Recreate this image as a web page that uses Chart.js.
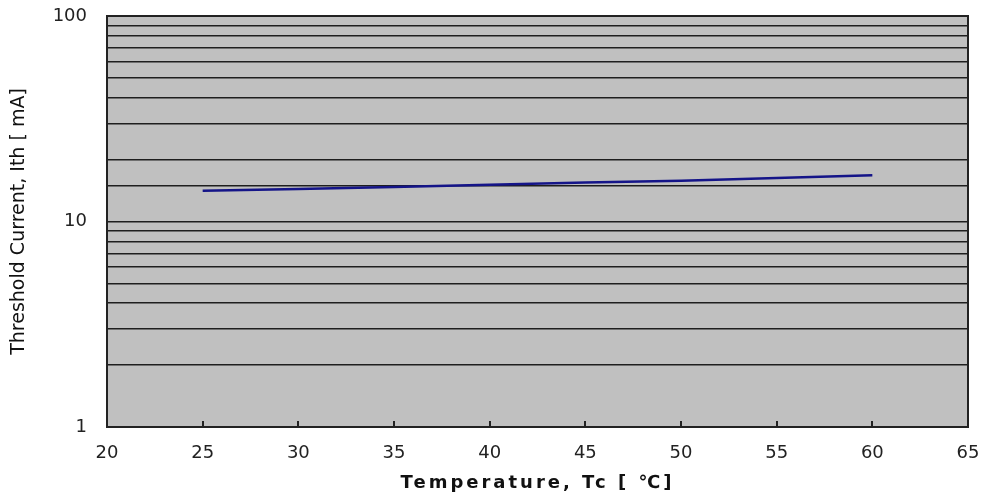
<!DOCTYPE html>
<html>
<head>
<meta charset="utf-8">
<script src="https://cdn.jsdelivr.net/npm/chart.js@4/dist/chart.umd.min.js"></script>
<style>
  body { margin: 0; background: #fff; }
  #wrap { width: 987px; height: 498px; }
</style>
</head>
<body>
<div id="wrap"><canvas id="ithChart"></canvas></div>
<script>
const temps = [25, 30, 35, 40, 45, 50, 55, 60];
const ith = [14.1, 14.4, 14.7, 15.1, 15.5, 15.8, 16.3, 16.8];
const yLabels = [1, 10, 100];

// gray plot background + closing frame on top/right
const plotFrame = {
  id: 'plotFrame',
  beforeDraw(chart) {
    const { ctx, chartArea: a } = chart;
    ctx.save();
    ctx.fillStyle = '#c0c0c0';
    ctx.fillRect(a.left, a.top, a.right - a.left, a.bottom - a.top);
    ctx.restore();
    // wide letters for the x title
    const s = chart.scales.x;
    if (s && !s._spaced) {
      const orig = s.drawTitle.bind(s);
      s.drawTitle = function () {
        const c = this.ctx;
        c.save();
        c.letterSpacing = '3px';
        orig();
        c.restore();
      };
      s._spaced = true;
    }
  },
  afterDraw(chart) {
    const { ctx, chartArea: a } = chart;
    ctx.save();
    ctx.strokeStyle = '#222';
    ctx.lineWidth = 2;
    ctx.strokeRect(a.left, a.top, a.right - a.left, a.bottom - a.top);
    ctx.restore();
  }
};

const ctx = document.getElementById('ithChart').getContext('2d');
const chart = new Chart(ctx, {
  type: 'line',
  data: {
    datasets: [{
      data: temps.map((t, i) => ({ x: t, y: ith[i] })),
      borderColor: '#141488',
      borderWidth: 2.5,
      pointRadius: 0,
      tension: 0,
      fill: false
    }]
  },
  options: {
    responsive: true,
    maintainAspectRatio: false,
    animation: false,
    layout: { padding: { top: 16, right: 19, left: 0, bottom: 0 } },
    plugins: { legend: { display: false }, tooltip: { enabled: false } },
    scales: {
      x: {
        type: 'linear',
        min: 20,
        max: 65,
        afterFit: (s) => { s.height = 71; s.paddingLeft = 0; s.paddingRight = 0; },
        ticks: {
          stepSize: 5,
          padding: 22,
          color: '#222',
          font: { family: 'DejaVu Sans', size: 18 }
        },
        grid: {
          drawOnChartArea: false,
          drawTicks: true,
          tickLength: -6,
          color: '#222',
          lineWidth: 2
        },
        border: { display: true, color: '#222', width: 2 },
        title: {
          display: true,
          text: 'Temperature, Tc [ ℃]',
          color: '#111',
          font: { family: 'DejaVu Sans', size: 18, weight: 'bold' },
          padding: { top: 0, bottom: 4 }
        }
      },
      y: {
        type: 'logarithmic',
        min: 1,
        max: 100,
        afterFit: (s) => { s.width = 107; s.paddingTop = 0; s.paddingBottom = 0; },
        ticks: {
          autoSkip: false,
          padding: 20,
          color: '#222',
          font: { family: 'DejaVu Sans', size: 18 },
          callback: (v) => (yLabels.includes(v) ? String(v) : '')
        },
        grid: {
          drawTicks: false,
          color: '#1e1e1e',
          lineWidth: 1.6
        },
        border: { display: true, color: '#222', width: 2 },
        title: {
          display: true,
          text: 'Threshold Current, Ith [ mA]',
          color: '#111',
          font: { family: 'DejaVu Sans', size: 19 },
          padding: { top: 8, bottom: 0 }
        }
      }
    }
  },
  plugins: [plotFrame]
});
</script>
</body>
</html>
